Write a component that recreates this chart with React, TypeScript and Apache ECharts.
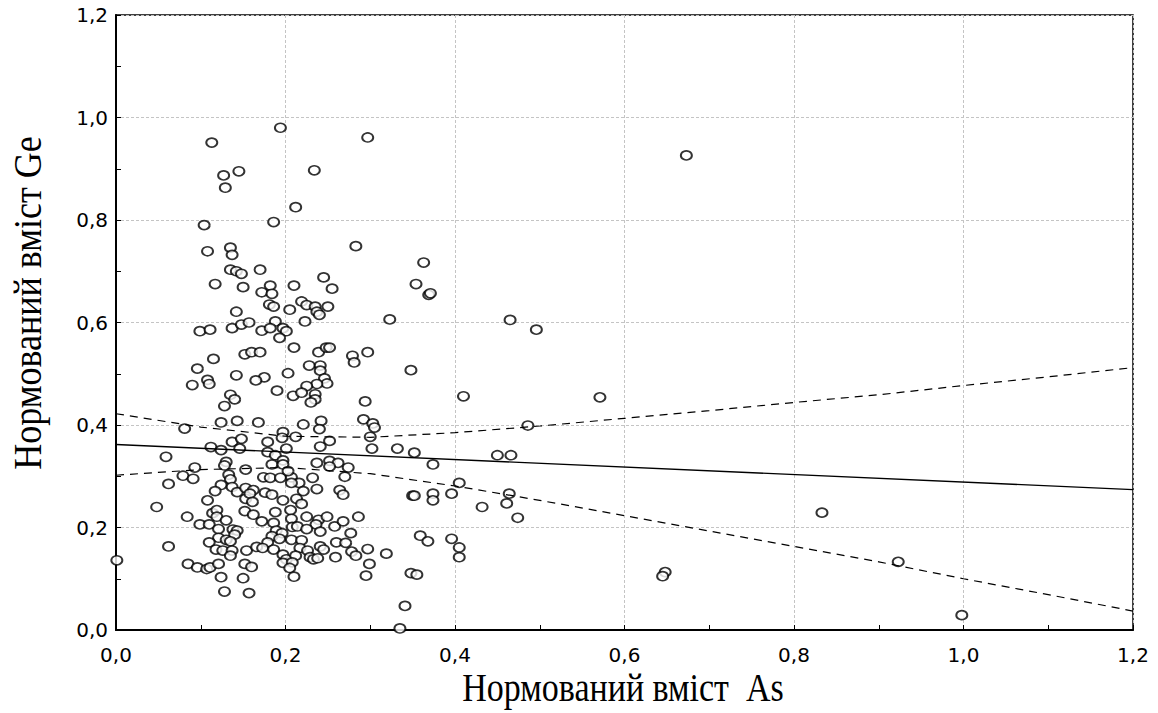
import React, { useEffect, useRef } from "react";
import * as echarts from "echarts";

// Normalised As content (x) and Ge content (y) of each sample
const asContent: number[] = [
  0.113, 0.127, 0.145, 0.129, 0.104, 0.108, 0.135, 0.137, 0.135, 0.142, 0.148, 0.194, 0.297, 0.234, 0.212, 0.186,
  0.283, 0.170, 0.245, 0.117, 0.150, 0.142, 0.099, 0.111, 0.137, 0.148, 0.157, 0.152, 0.115, 0.096, 0.142, 0.090,
  0.108, 0.110, 0.182, 0.210, 0.255, 0.172, 0.184, 0.181, 0.186, 0.219, 0.225, 0.235, 0.237, 0.240, 0.250, 0.205,
  0.188, 0.223, 0.172, 0.182, 0.197, 0.201, 0.193, 0.210, 0.160, 0.170, 0.239, 0.248, 0.252, 0.279, 0.281, 0.297,
  0.228, 0.241, 0.241, 0.203, 0.175, 0.165, 0.246, 0.249, 0.237, 0.225, 0.323, 0.135, 0.140, 0.128, 0.124, 0.143,
  0.081, 0.137, 0.148, 0.112, 0.124, 0.146, 0.059, 0.130, 0.128, 0.093, 0.153, 0.079, 0.091, 0.133, 0.190, 0.209,
  0.219, 0.235, 0.235, 0.230, 0.294, 0.168, 0.221, 0.242, 0.240, 0.292, 0.303, 0.305, 0.197, 0.196, 0.212, 0.179,
  0.252, 0.241, 0.300, 0.302, 0.201, 0.179, 0.188, 0.197, 0.184, 0.197, 0.237, 0.252, 0.262, 0.252, 0.274, 0.174,
  0.182, 0.194, 0.207, 0.232, 0.270, 0.203, 0.062, 0.135, 0.124, 0.137, 0.117, 0.143, 0.153, 0.153, 0.108, 0.048,
  0.114, 0.119, 0.084, 0.119, 0.130, 0.152, 0.099, 0.110, 0.121, 0.138, 0.143, 0.140, 0.121, 0.130, 0.110, 0.135,
  0.062, 0.118, 0.126, 0.137, 0.135, 0.154, 0.001, 0.085, 0.096, 0.107, 0.111, 0.121, 0.152, 0.124, 0.150, 0.128,
  0.157, 0.216, 0.162, 0.158, 0.176, 0.184, 0.207, 0.221, 0.237, 0.264, 0.268, 0.161, 0.197, 0.213, 0.219, 0.206,
  0.188, 0.162, 0.225, 0.239, 0.249, 0.286, 0.207, 0.172, 0.186, 0.208, 0.214, 0.236, 0.241, 0.225, 0.258, 0.268,
  0.277, 0.189, 0.196, 0.184, 0.193, 0.207, 0.219, 0.179, 0.260, 0.271, 0.241, 0.166, 0.173, 0.186, 0.217, 0.226,
  0.245, 0.278, 0.297, 0.319, 0.197, 0.201, 0.212, 0.229, 0.233, 0.238, 0.259, 0.283, 0.160, 0.197, 0.208, 0.205,
  0.299, 0.210, 0.295, 0.363, 0.354, 0.369, 0.371, 0.465, 0.496, 0.348, 0.410, 0.486, 0.332, 0.352, 0.374, 0.450,
  0.466, 0.405, 0.350, 0.352, 0.374, 0.374, 0.396, 0.464, 0.461, 0.432, 0.474, 0.359, 0.368, 0.396, 0.405, 0.405,
  0.348, 0.355, 0.341, 0.335, 0.673, 0.571, 0.833, 0.923, 0.998, 0.648, 0.645,
];
const geContent: number[] = [
  0.951, 0.887, 0.895, 0.863, 0.790, 0.739, 0.746, 0.732, 0.703, 0.700, 0.695, 0.980, 0.961, 0.897, 0.825, 0.796,
  0.749, 0.703, 0.688, 0.675, 0.669, 0.621, 0.583, 0.586, 0.589, 0.596, 0.600, 0.538, 0.529, 0.510, 0.497, 0.478,
  0.488, 0.480, 0.672, 0.672, 0.666, 0.659, 0.656, 0.635, 0.631, 0.641, 0.634, 0.631, 0.621, 0.615, 0.631, 0.625,
  0.602, 0.602, 0.584, 0.589, 0.589, 0.583, 0.570, 0.551, 0.542, 0.542, 0.542, 0.551, 0.551, 0.535, 0.522, 0.542,
  0.516, 0.516, 0.506, 0.501, 0.493, 0.487, 0.491, 0.481, 0.480, 0.476, 0.606, 0.459, 0.450, 0.437, 0.405, 0.408,
  0.393, 0.367, 0.373, 0.357, 0.351, 0.354, 0.338, 0.328, 0.321, 0.317, 0.313, 0.301, 0.295, 0.303, 0.467, 0.457,
  0.463, 0.460, 0.450, 0.444, 0.446, 0.405, 0.401, 0.408, 0.392, 0.411, 0.403, 0.395, 0.386, 0.375, 0.377, 0.367,
  0.369, 0.358, 0.377, 0.354, 0.354, 0.347, 0.341, 0.331, 0.323, 0.323, 0.326, 0.330, 0.326, 0.319, 0.317, 0.298,
  0.297, 0.297, 0.298, 0.297, 0.299, 0.310, 0.285, 0.294, 0.283, 0.279, 0.271, 0.269, 0.277, 0.256, 0.253, 0.240,
  0.228, 0.234, 0.221, 0.221, 0.214, 0.232, 0.206, 0.206, 0.197, 0.196, 0.194, 0.186, 0.180, 0.176, 0.171, 0.173,
  0.163, 0.157, 0.155, 0.155, 0.145, 0.155, 0.136, 0.129, 0.122, 0.119, 0.122, 0.129, 0.129, 0.103, 0.101, 0.075,
  0.072, 0.287, 0.273, 0.266, 0.268, 0.264, 0.287, 0.271, 0.275, 0.273, 0.264, 0.250, 0.253, 0.256, 0.246, 0.234,
  0.230, 0.225, 0.221, 0.215, 0.221, 0.221, 0.217, 0.212, 0.209, 0.201, 0.202, 0.206, 0.192, 0.197, 0.202, 0.212,
  0.189, 0.194, 0.189, 0.183, 0.178, 0.176, 0.175, 0.171, 0.171, 0.170, 0.163, 0.162, 0.160, 0.157, 0.160, 0.155,
  0.157, 0.153, 0.158, 0.149, 0.147, 0.138, 0.145, 0.142, 0.138, 0.140, 0.142, 0.145, 0.123, 0.131, 0.132, 0.121,
  0.129, 0.104, 0.106, 0.717, 0.675, 0.654, 0.657, 0.605, 0.586, 0.507, 0.456, 0.399, 0.354, 0.346, 0.323, 0.341,
  0.341, 0.287, 0.262, 0.262, 0.266, 0.253, 0.266, 0.266, 0.247, 0.240, 0.219, 0.184, 0.173, 0.178, 0.161, 0.142,
  0.111, 0.108, 0.047, 0.003, 0.926, 0.454, 0.229, 0.133, 0.029, 0.113, 0.105,
];

// Fitted regression line and its confidence band
const fitX = [0, 1.2];
const fitY = [0.362, 0.274];
const bandX = [0, 0.1, 0.2, 0.3, 0.4, 0.5, 0.6, 0.7, 0.8, 0.9, 1.0, 1.1, 1.2];
const bandUpper = [0.422, 0.396, 0.378, 0.376, 0.385, 0.398, 0.413, 0.428, 0.444, 0.459, 0.477, 0.494, 0.512];
const bandLower = [0.302, 0.313, 0.317, 0.305, 0.281, 0.253, 0.223, 0.193, 0.163, 0.133, 0.100, 0.069, 0.037];

const xTitle = "Нормований вміст  As";
const yTitle = "Нормований вміст Ge";

const fmt = (v: number) => v.toFixed(1).replace(".", ",");

export default function App() {
  const ref = useRef<HTMLDivElement>(null);
  useEffect(() => {
    if (!ref.current) return;
    const chart = echarts.init(ref.current, undefined, { renderer: "svg" });
    const points = asContent.map((x, i) => [x, geContent[i]]);
    const axisCommon = {
      min: 0,
      max: 1.2,
      interval: 0.2,
      axisLine: { show: true, onZero: false, lineStyle: { color: "#000", width: 2 } },
      axisTick: { show: true, inside: true, length: 5, lineStyle: { color: "#000", width: 1 } },
      minorTick: { show: true, splitNumber: 2, length: 5, lineStyle: { color: "#000", width: 1 } },
      splitLine: { show: true, lineStyle: { color: "#c4c4c4", type: [3, 2], width: 1 } },
      axisLabel: {
        color: "#000",
        fontFamily: "DejaVu Sans",
        fontSize: 20,
        formatter: fmt,
      },
    };
    chart.setOption({
      animation: false,
      backgroundColor: "#fff",
      grid: {
        left: 116,
        right: 25,
        top: 15,
        bottom: 83,
        show: true,
        borderColor: "#000",
        borderWidth: 1.5,
        containLabel: false,
      },
      xAxis: {
        type: "value",
        ...axisCommon,
        axisLabel: { ...axisCommon.axisLabel, margin: 15, showMinLabel: true, showMaxLabel: true },
      },
      yAxis: {
        type: "value",
        ...axisCommon,
        axisLabel: { ...axisCommon.axisLabel, margin: 8, showMinLabel: true, showMaxLabel: true },
      },
      graphic: [
        {
          type: "text",
          x: 623,
          y: 688,
          scaleX: 0.85,
          style: {
            text: xTitle,
            fontFamily: "Liberation Serif",
            fontSize: 40,
            fill: "#000",
            align: "center",
            verticalAlign: "middle",
          },
        },
        {
          type: "text",
          x: 27,
          y: 303,
          rotation: Math.PI / 2,
          scaleX: 0.9,
          style: {
            text: yTitle,
            fontFamily: "Liberation Serif",
            fontSize: 40,
            fill: "#000",
            align: "center",
            verticalAlign: "middle",
          },
        },
      ],
      series: [
        {
          type: "scatter",
          data: points,
          symbol: "circle",
          symbolSize: [11, 9],
          clip: true,
          itemStyle: { color: "#fff", borderColor: "#000", borderWidth: 1.8 },
          z: 3,
        },
        {
          type: "line",
          data: fitX.map((x, i) => [x, fitY[i]]),
          symbol: "none",
          lineStyle: { color: "#000", width: 1.4 },
          z: 4,
        },
        {
          type: "line",
          data: bandX.map((x, i) => [x, bandUpper[i]]),
          symbol: "none",
          lineStyle: { color: "#000", width: 1.2, type: [8, 6] },
          z: 4,
        },
        {
          type: "line",
          data: bandX.map((x, i) => [x, bandLower[i]]),
          symbol: "none",
          lineStyle: { color: "#000", width: 1.2, type: [8, 6] },
          z: 4,
        },
      ],
    });
    return () => chart.dispose();
  }, []);
  return (
    <div
      ref={ref}
      style={{ position: "absolute", left: 0, top: 0, width: 1158, height: 713, background: "#fff" }}
    />
  );
}
